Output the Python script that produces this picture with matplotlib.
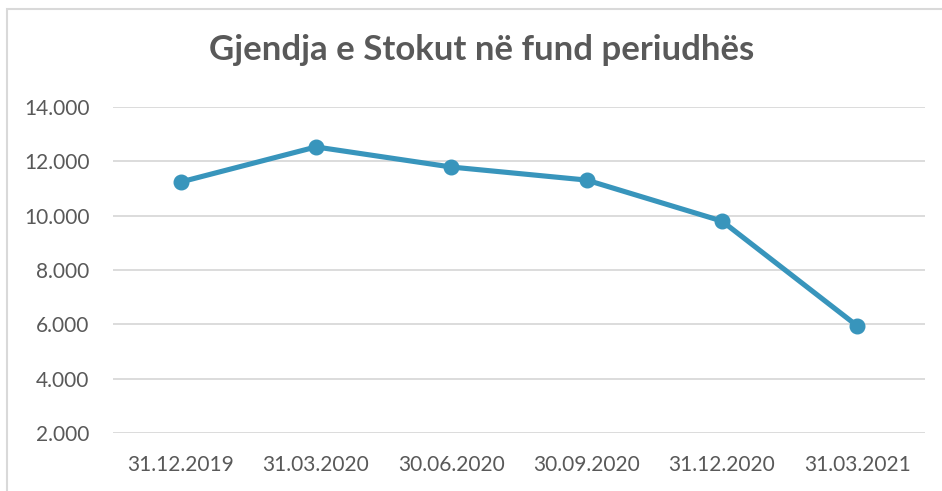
import matplotlib
matplotlib.use('Agg')
import matplotlib.pyplot as plt
import matplotlib.ticker as ticker
from matplotlib.patches import Rectangle

# ── Data ──────────────────────────────────────────────────────────────────────
dates  = ["31.12.2019", "31.03.2020", "30.06.2020", "30.09.2020", "31.12.2020", "31.03.2021"]
stock  = [11240, 12530, 11790, 11310, 9800, 5940]
yticks = [2000, 4000, 6000, 8000, 10000, 12000, 14000]

plt.rcParams['font.family'] = ['Lato', 'DejaVu Sans']
txt_col  = "#595959"
line_col = "#3895BC"
grid_col = "#D9D9D9"

fig = plt.figure(figsize=(9.42, 4.91), dpi=100)
ax = fig.add_axes([113/942, 1-433/491, 812/942, 326/491])

# chart frame (cut off at right / bottom like the screenshot)
fig.patches.append(Rectangle((7/942, -0.1), 1.2, (491-9)/491 + 0.1,
                             transform=fig.transFigure, fill=False,
                             edgecolor=grid_col, lw=1.5))

x = list(range(len(dates)))
ax.plot(x, stock, color=line_col, lw=3.7, marker="o", ms=10.5,
        solid_capstyle="round", zorder=3)

ax.set_xlim(-0.5, len(dates) - 0.5)
ax.set_ylim(2000, 14000)
ax.set_yticks(yticks)
ax.yaxis.set_major_formatter(ticker.FuncFormatter(lambda v, p: f"{int(v):,}".replace(",", ".")))
ax.set_xticks(x)
ax.set_xticklabels(dates)

ax.grid(axis="y", color=grid_col, lw=1.3)
ax.set_axisbelow(True)
for s in ax.spines.values():
    s.set_visible(False)
ax.tick_params(axis="both", length=0, labelsize=15, labelcolor=txt_col)
ax.tick_params(axis="y", pad=17)
ax.tick_params(axis="x", pad=16)

fig.text(0.511, 1-50/491, "Gjendja e Stokut në fund periudhës", ha="center", va="center",
         fontsize=25, fontweight="bold", color=txt_col)

fig.savefig("out.png", dpi=100)
